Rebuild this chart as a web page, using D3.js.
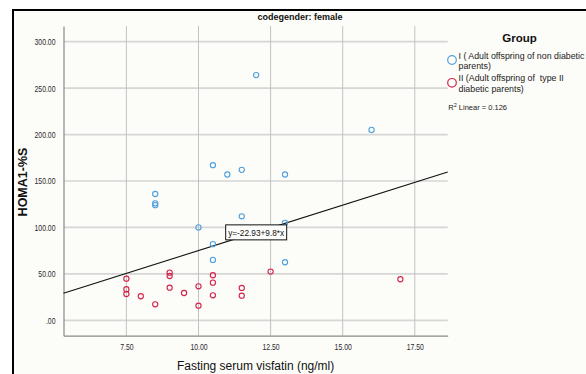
<!DOCTYPE html>
<html><head><meta charset="utf-8">
<script src="https://cdn.jsdelivr.net/npm/d3@7/dist/d3.min.js"></script>
<style>body{margin:0;background:#fff;} svg{display:block;font-family:"Liberation Sans",Arial,sans-serif;}</style>
</head><body>
<script>
// ---- data ----
const chartTitle = "codegender: female";
const xLabel = "Fasting serum visfatin (ng/ml)";
const yLabel = "HOMA1-%S";
const groupNames = ["I ( Adult offspring of non diabetic|parents)", "II (Adult offspring of  type II|diabetic parents)"];
const groupIvisfatin = [10.5, 11.0, 11.5, 13.0, 8.5, 8.5, 8.5, 11.5, 10.0, 13.0, 12.0, 16.0, 10.5, 10.5, 13.0];
const groupIhoma = [167, 157, 162, 157, 136, 126, 124, 112, 100, 105, 264, 205, 82, 65, 62.5];
const groupIIvisfatin = [7.5, 7.5, 7.5, 8.0, 8.5, 9.0, 9.0, 9.0, 9.5, 10.0, 10.0, 10.5, 10.5, 10.5, 11.5, 11.5, 12.5, 17.0];
const groupIIhoma = [44.8, 33.4, 28.3, 25.9, 17.2, 51.3, 47.7, 35.1, 29.4, 36.6, 15.7, 48.5, 40.5, 26.9, 34.8, 26.5, 52.4, 44.2];
const fitIntercept = -22.93, fitSlope = 9.8;
const fitLabel = "y=-22.93+9.8*x";
const r2Label = "0.126";
const xTicks = [7.5, 10, 12.5, 15, 17.5];
const xTickLabels = ["7.50", "10.00", "12.50", "15.00", "17.50"];
const yTicks = [0, 50, 100, 150, 200, 250, 300];
const yTickLabels = [".00", "50.00", "100.00", "150.00", "200.00", "250.00", "300.00"];

const W = 586, H = 374;
const colors = ["#4f9fde", "#d4234a"];
const svg = d3.select("body").append("svg").attr("width", W).attr("height", H);

// frame
svg.append("rect").attr("x", 13).attr("y", 10).attr("width", 700).attr("height", 500)
  .attr("fill", "#fcfcf8").attr("stroke", "#000").attr("stroke-width", 2);

const x = d3.scaleLinear().domain([5.32, 18.64]).range([63.5, 447.7]);
const y = d3.scaleLinear().domain([-16.6, 316.9]).range([335.7, 26]);

// grid
const g = svg.append("g");
g.selectAll("line.hg").data(yTicks).join("line")
  .attr("x1", x.range()[0]).attr("x2", x.range()[1])
  .attr("y1", d => y(d)).attr("y2", d => y(d))
  .attr("stroke", "#d6d6d6").attr("stroke-width", 1.7);
g.selectAll("line.vg").data(xTicks).join("line")
  .attr("y1", y.range()[0]).attr("y2", y.range()[1])
  .attr("x1", d => x(d)).attr("x2", d => x(d))
  .attr("stroke", "#c2c2c2").attr("stroke-width", 1);

// axes
const xAxis = svg.append("g").attr("transform", `translate(0,${y.range()[0]})`)
  .call(d3.axisBottom(x).tickValues(xTicks).tickSize(0).tickFormat((d, i) => xTickLabels[i]));
const yAxis = svg.append("g").attr("transform", `translate(${x.range()[0]},0)`)
  .call(d3.axisLeft(y).tickValues(yTicks).tickSize(0).tickFormat((d, i) => yTickLabels[i]));
[xAxis, yAxis].forEach(a => {
  a.select(".domain").attr("stroke", "#8a8a8a").attr("stroke-width", 1.2);
  a.selectAll("text").attr("font-size", 8.6).attr("fill", "#2a2a2a").attr("font-family", "Liberation Sans, Arial, sans-serif");
});
xAxis.selectAll("text").attr("y", 0).attr("dy", "0").attr("transform", "translate(0,14) scale(0.8,1)");
yAxis.selectAll("text").attr("x", 0).attr("dy", "0").attr("transform", "translate(-8,3) scale(0.8,1)");

// regression line
const lx = x.domain();
svg.append("line")
  .attr("x1", x(lx[0])).attr("y1", y(fitIntercept + fitSlope * lx[0]))
  .attr("x2", x(lx[1])).attr("y2", y(fitIntercept + fitSlope * lx[1]))
  .attr("stroke", "#111").attr("stroke-width", 1.1);

// points
const groups = [[groupIvisfatin, groupIhoma], [groupIIvisfatin, groupIIhoma]];
groups.forEach(([xs, ys], gi) => {
  svg.append("g").selectAll("circle").data(xs.map((v, i) => [v, ys[i]])).join("circle")
    .attr("cx", d => x(d[0])).attr("cy", d => y(d[1])).attr("r", 2.6)
    .attr("fill", "none").attr("stroke", colors[gi]).attr("stroke-width", 1.1);
});

// fit label box
const bx = 12.0, by = fitIntercept + fitSlope * bx;
const lb = svg.append("g").attr("transform", `translate(${x(bx)},${y(by)})`);
lb.append("rect").attr("x", -30.5).attr("y", -7.5).attr("width", 61).attr("height", 15)
  .attr("fill", "#fdfdfb").attr("stroke", "#111").attr("stroke-width", 1);
lb.append("text").attr("text-anchor", "middle").attr("y", 3.2).attr("font-size", 9)
  .attr("fill", "#111").attr("transform", "scale(0.92,1)").text(fitLabel);

// titles
svg.append("text").attr("x", 300).attr("y", 20).attr("text-anchor", "middle")
  .attr("font-size", 9).attr("font-weight", "bold").attr("fill", "#111").text(chartTitle);
svg.append("text").attr("x", (x.range()[0] + x.range()[1]) / 2).attr("y", 370).attr("text-anchor", "middle")
  .attr("font-size", 12).attr("fill", "#111").text(xLabel);
svg.append("text").attr("transform", "translate(27,182) rotate(-90)").attr("text-anchor", "middle")
  .attr("font-size", 12.5).attr("font-weight", "bold").attr("fill", "#111").text(yLabel);

// legend
svg.append("text").attr("x", 519.5).attr("y", 41.5).attr("text-anchor", "middle")
  .attr("font-size", 11.5).attr("font-weight", "bold").attr("fill", "#111").text("Group");
const legY = [58.5, 81.3];
groupNames.forEach((name, i) => {
  svg.append("circle").attr("cx", 452).attr("cy", legY[i] + 1.5).attr("r", 4.3)
    .attr("fill", "none").attr("stroke", colors[i]).attr("stroke-width", 1.2);
  name.split("|").forEach((ln, j) => {
    svg.append("text").attr("transform", `translate(458.5,${legY[i] + j * 10.3}) scale(0.92,1)`)
      .style("white-space", "pre")
      .attr("font-size", 9.6).attr("fill", "#222").text(ln);
  });
});
const r2 = svg.append("text").attr("x", 448.3).attr("y", 110).attr("font-size", 7.5).attr("fill", "#222");
r2.append("tspan").text("R");
r2.append("tspan").attr("dy", -3).attr("font-size", 5.5).text("2");
r2.append("tspan").attr("dy", 3).text(" Linear = " + r2Label);
</script>
</body></html>
